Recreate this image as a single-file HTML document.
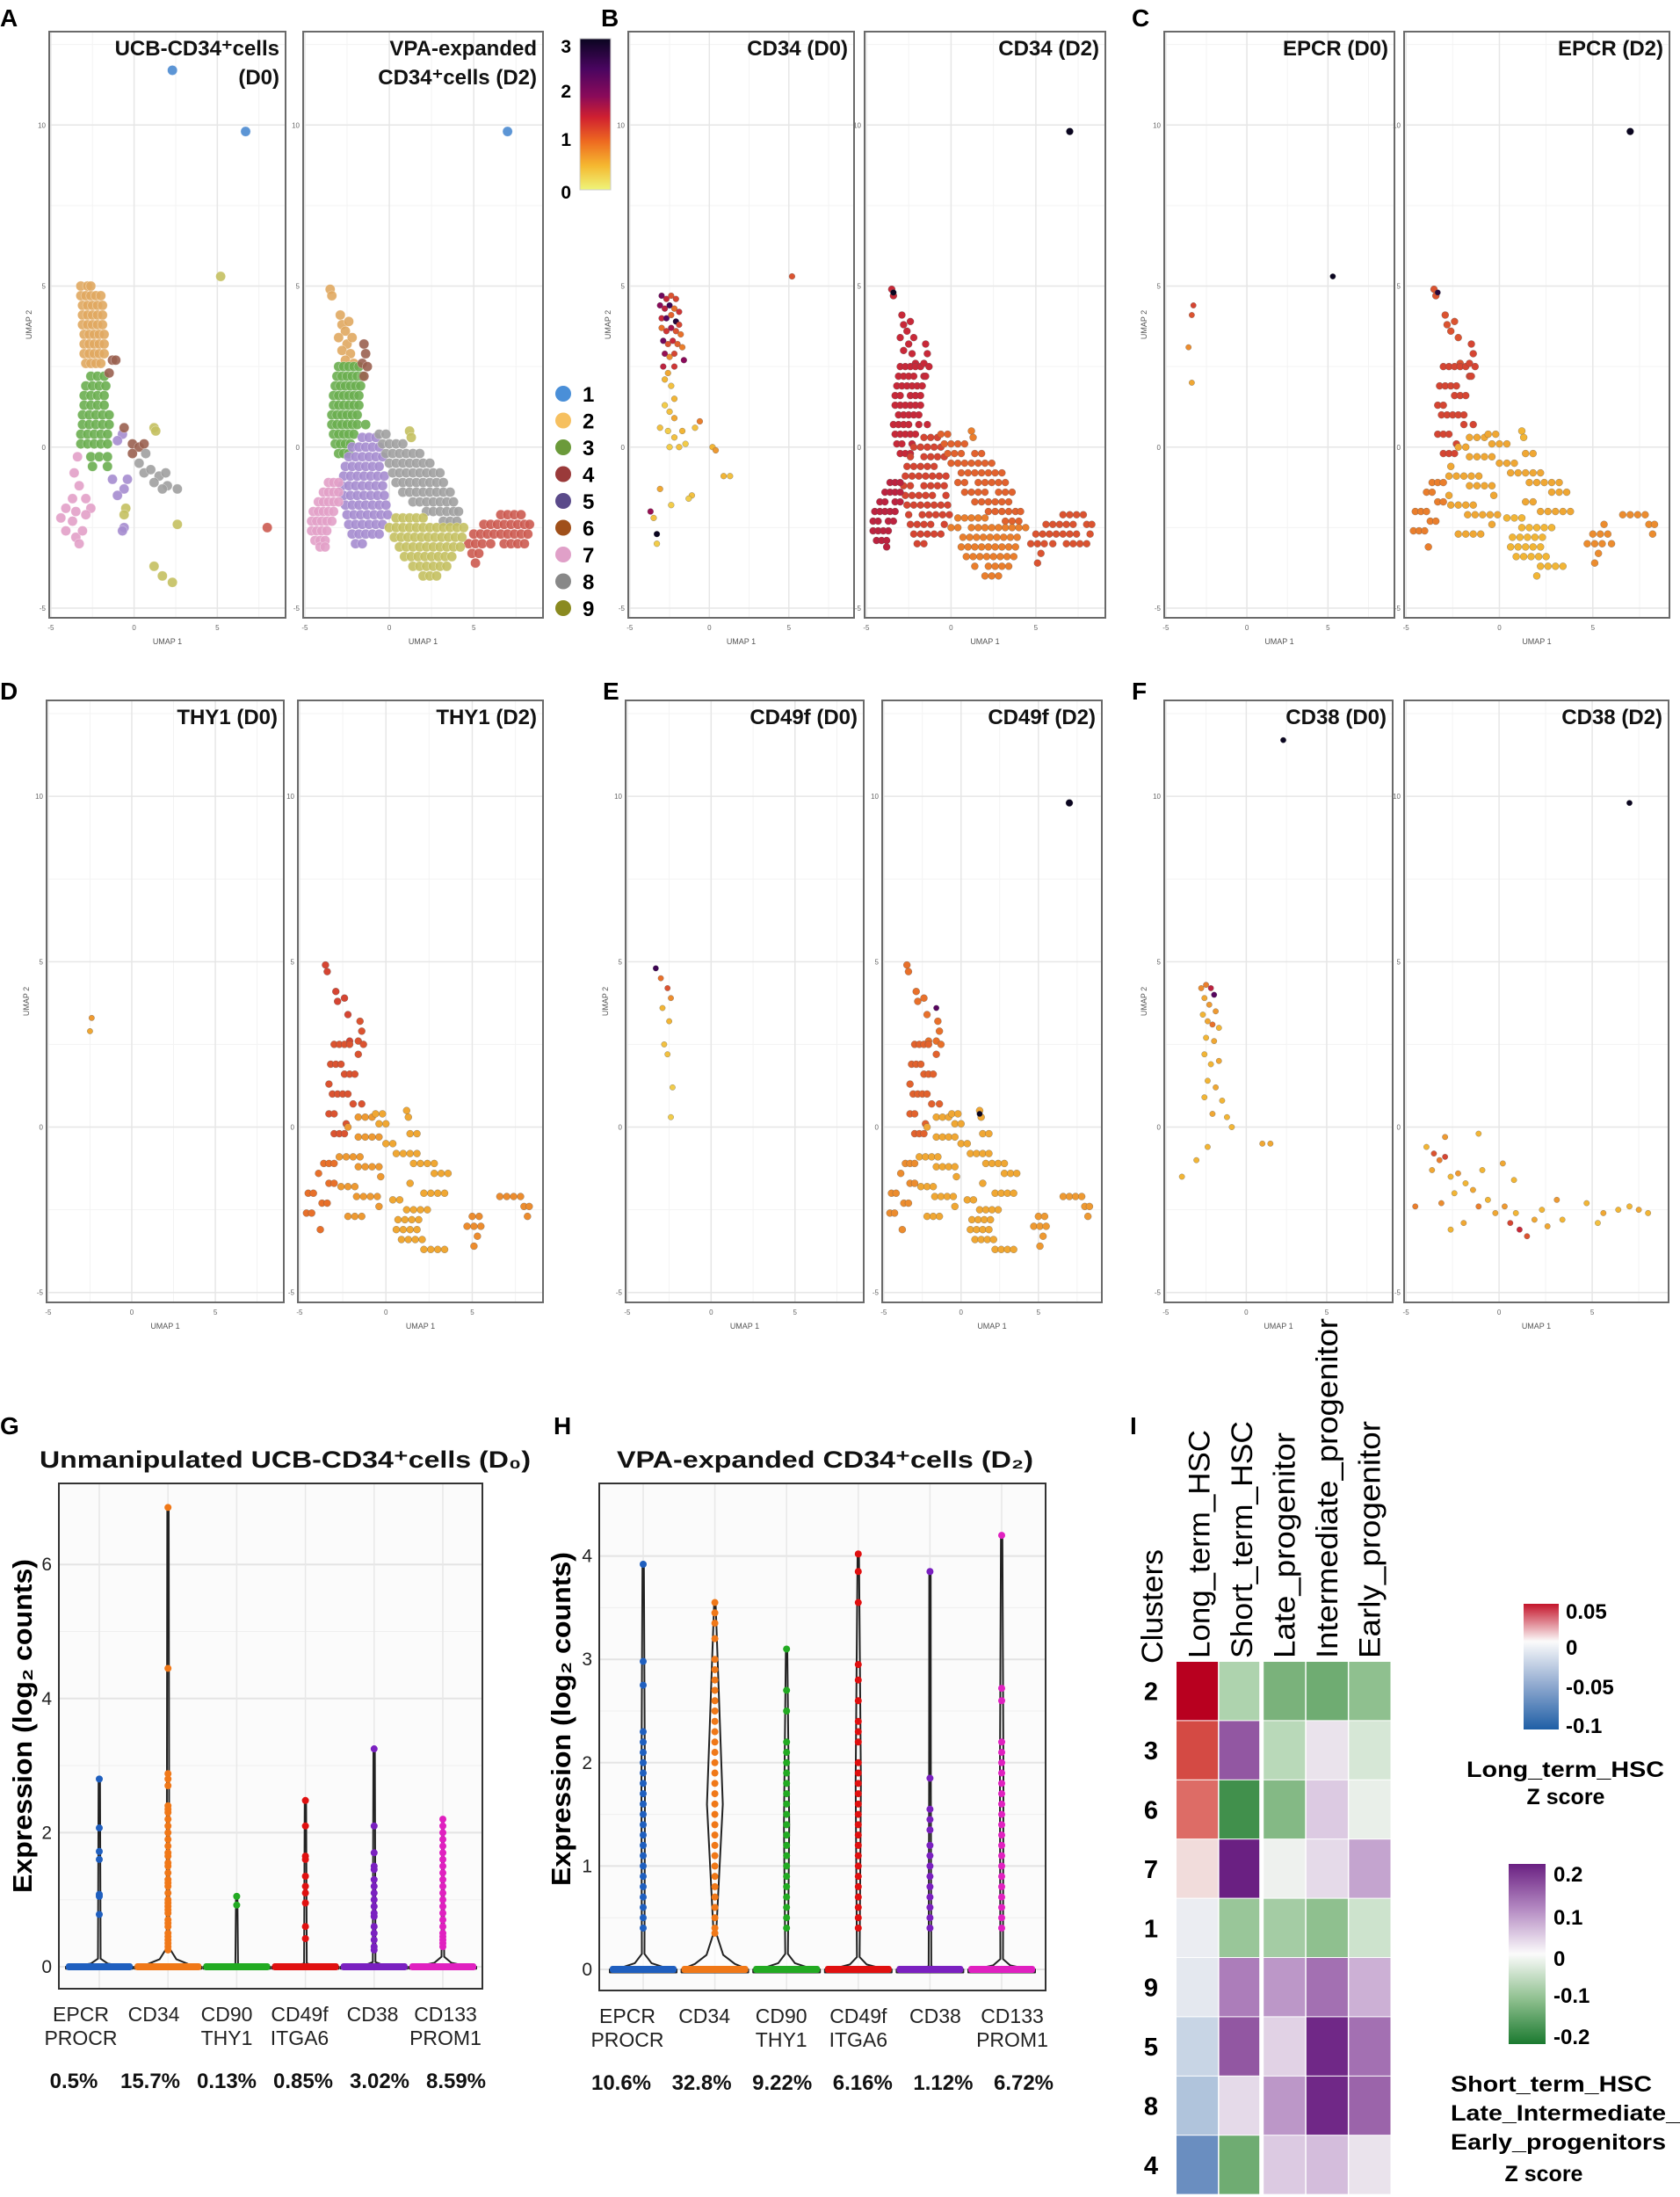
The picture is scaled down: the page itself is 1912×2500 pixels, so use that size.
<!DOCTYPE html>
<html><head><meta charset="utf-8">
<style>
body{margin:0;background:#fff}
svg{display:block;font-family:"Liberation Sans",Arial,sans-serif}
</style></head>
<body>
<svg id="fig" width="1912" height="2500" viewBox="0 0 1912 2500">
<defs>
<linearGradient id="cbar" x1="0" y1="0" x2="0" y2="1">
<stop offset="0" stop-color="#0a0520"/><stop offset="0.2" stop-color="#4a0560"/><stop offset="0.38" stop-color="#8a0a5a"/><stop offset="0.52" stop-color="#d02030"/><stop offset="0.68" stop-color="#ee6a20"/><stop offset="0.84" stop-color="#f5b830"/><stop offset="1" stop-color="#eef57a"/>
</linearGradient>
<linearGradient id="lg1" x1="0" y1="0" x2="0" y2="1">
<stop offset="0" stop-color="#c4142a"/><stop offset="0.3" stop-color="#fbfbfb"/><stop offset="0.65" stop-color="#8fa9cf"/><stop offset="1" stop-color="#1f5fa6"/>
</linearGradient>
<linearGradient id="lg2" x1="0" y1="0" x2="0" y2="1">
<stop offset="0" stop-color="#6a2082"/><stop offset="0.25" stop-color="#b48ac2"/><stop offset="0.5" stop-color="#fbfbfb"/><stop offset="0.75" stop-color="#8fc08f"/><stop offset="1" stop-color="#1b7a30"/>
</linearGradient>
</defs>
</svg>
<script>
// ---------------- DATA ----------------
const d0Clusters = [
 "2.3,11.7 6.7,9.8",
 "5.0:-3.2,-2.8,-2.6|4.7:-3.2,-2.9,-2.6,-2.3,-2|4.4:-3.1,-2.8,-2.5,-2.2,-1.9|4.1:-3.1,-2.8,-2.5,-2.2,-1.9|3.8:-3.1,-2.8,-2.5,-2.2,-1.9|3.5:-3,-2.7,-2.4,-2.1,-1.8|3.2:-3,-2.7,-2.4,-2.1,-1.8|2.9:-3,-2.7,-2.4,-2.1,-1.8|2.6:-2.9,-2.6,-2.3,-2",
 "2.2:-2.6,-2.2,-1.8|1.9:-2.9,-2.5,-2.1,-1.7|1.6:-3,-2.6,-2.2,-1.8|1.3:-3,-2.6,-2.2,-1.8|1.0:-3.1,-2.7,-2.3,-1.9,-1.5|0.7:-3.1,-2.7,-2.3,-1.9,-1.5|0.4:-3.2,-2.8,-2.4,-2,-1.6|0.1:-3.2,-2.8,-2.4,-2,-1.6|-0.3:-2.6,-2.1,-1.6|-0.6:-2.5,-1.6",
 "8,-2.5",
 "-0.6,-1.3 -1,-1.5 -0.4,-1 -0.6,-2.5 -0.7,-2.6 -1.3,-1 -0.7,0.4 -1,0.2",
 "-1.3,2.7 -1.5,2.3 -1.1,2.7 -0.6,0.6 -0.1,0.1 0.3,0 0.6,0.1 -0.1,-0.2",
 "-3.4,-0.3 -3.6,-0.8 -3.3,-1.2 -3.7,-1.6 -2.9,-1.6 -4.1,-1.9 -3.5,-2 -2.6,-1.9 -4.4,-2.2 -3.7,-2.3 -2.9,-2.1 -3.5,-2.8 -4.1,-2.6 -3.3,-3 -3.1,-2.6",
 "0.3,-0.5 0.6,-0.8 1,-0.7 1.5,-0.9 1.9,-0.8 1.2,-1.1 2,-1.2 2.6,-1.3 1.7,-1.3 0.7,-0.2",
 "5.2,5.3 1.2,0.6 1.3,0.5 -0.5,-1.9 -0.6,-2.1 2.6,-2.4 1.2,-3.7 1.7,-4 2.3,-4.2"
];
const d2Clusters = [
 "7,9.8",
 "-3.5,4.9 -3.4,4.7 -2.9,4.1 -2.8,3.8 -2.6,3.6 -3,3.4 -2.5,3.2 -2.8,3 -2.3,2.9 -2.6,2.7 -2.2,3.4 -2.4,3.9 -2.1,2.6",
 "2.5:-3,-2.7,-2.4,-2.1,-1.8|2.2:-3.1,-2.8,-2.5,-2.2,-1.9,-1.6|1.9:-3.2,-2.9,-2.6,-2.3,-2,-1.7|1.6:-3.3,-3,-2.7,-2.4,-2.1,-1.8|1.3:-3.3,-3,-2.7,-2.4,-2.1,-1.8|1.0:-3.4,-3.1,-2.8,-2.5,-2.2,-1.9|0.7:-3.4,-3.1,-2.8,-2.5,-2.2,-1.9,-1.4|0.4:-3.3,-3,-2.7,-2.4,-2.1|0.1:-3.2,-2.9,-2.6,-2.3|-0.2:-3,-2.7,-2.4",
 "-2.1:6.6,7,7.4,7.8|-2.4:5.6,6,6.4,6.8,7.2,7.6,8,8.3|-2.7:5,5.4,5.8,6.2,6.6,7,7.4,7.8,8.2|-3.0:4.7,5.1,5.5,6,6.8,7.2,7.6,8|-3.3:4.9,5.3|-3.6:5.1",
 "0.3:-1.6,-1.2,-0.8|0:-2.2,-1.8,-1.4,-1,-0.6|-0.3:-2.4,-2,-1.6,-1.2,-0.8,-0.4|-0.6:-2.6,-2.2,-1.8,-1.4,-1,-0.6|-0.9:-2.7,-2.3,-1.9,-1.5,-1.1,-0.7,-0.3|-1.2:-2.8,-2.4,-2,-1.6,-1.2,-0.8,-0.4|-1.5:-2.7,-2.3,-1.9,-1.5,-1.1,-0.7,-0.3|-1.8:-2.6,-2.2,-1.8,-1.4,-1,-0.6,-0.2|-2.1:-2.5,-2.1,-1.7,-1.3,-0.9,-0.5,-0.1|-2.4:-2.4,-2,-1.6,-1.2,-0.8,-0.4|-2.7:-2.2,-1.8,-1.4,-1,-0.6|-3.0:-2,-1.6",
 "-1.5,3.2 -1.4,2.9 -1.6,2.6 -1.3,2.5 -1.5,2.2",
 "-1.1:-3.6,-3.3,-3|-1.4:-3.9,-3.6,-3.3,-3|-1.7:-4.2,-3.9,-3.6,-3.3,-3.0|-2.0:-4.5,-4.2,-3.9,-3.6,-3.3|-2.3:-4.6,-4.3,-4,-3.7,-3.4|-2.6:-4.6,-4.3,-4,-3.7|-2.9:-4.4,-4.1,-3.8|-3.1:-4.1,-3.8",
 "0.4:-0.6,-0.2|0.1:-0.4,0,0.4,0.8|-0.2:-0.2,0.2,0.6,1,1.4,1.8|-0.5:0,0.4,0.8,1.2,1.6,2,2.4|-0.8:0.2,0.6,1,1.4,1.8,2.2,2.6,3|-1.1:0.4,0.8,1.2,1.6,2,2.4,2.8,3.2|-1.4:0.8,1.2,1.6,2,2.4,2.8,3.2,3.6|-1.7:1.4,1.8,2.2,2.6,3,3.4,3.8|-2.0:2.2,2.6,3,3.4,3.8,4.1|-2.3:3.2,3.6,4",
 "1.2,0.5 1.3,0.3|-2.2:0.4,0.8,1.2,1.6,2|-2.5:0,0.4,0.8,1.2,1.6,2,2.4,2.8,3.2,3.6,4,4.4|-2.8:0.3,0.7,1.1,1.5,1.9,2.3,2.7,3.1,3.5,3.9,4.3|-3.1:0.6,1,1.4,1.8,2.2,2.6,3,3.4,3.8,4.2|-3.4:0.9,1.3,1.7,2.1,2.5,2.9,3.3,3.7|-3.7:1.4,1.8,2.2,2.6,3,3.4|-4.0:2,2.4,2.8"
];
const clusterLabels = ["1","2","3","4","5","6","7","8","9"];
const cd34D0 = "-3,4.7,2.2 -2.7,4.6,1.5 -2.4,4.7,1.2 -2.1,4.6,1.3 -3.1,4.4,2 -2.8,4.3,1.6 -2.5,4.4,2.6 -2.2,4.3,1 -1.9,4.2,1.4 -3,4,1.5 -2.7,4,2.4 -2.4,4.1,1.1 -2.1,3.9,2.8 -1.9,3.8,1.3 -3,3.7,1 -2.7,3.6,1.4 -2.4,3.7,1.8 -2.1,3.6,1.2 -1.8,3.5,1 -2.9,3.3,2.2 -2.6,3.2,1.2 -2.3,3.3,1.5 -2,3.2,1.1 -1.7,3.1,0.9 -2.8,2.9,1.9 -2.5,2.8,0.8 -2.2,2.9,1.3 -1.6,2.7,2 -2.9,2.5,1.6 -2.6,2.3,0.6 -2.2,2.5,1.4 -2.8,2.1,0.5 -2.4,1.9,0.4 -2.2,1.5,0.5 -2.8,1.3,0.3 -2.5,1.1,0.4 -2.2,0.9,0.6 -3.1,0.6,0.4 -2.6,0.5,0.3 -2.2,0.3,0.4 -1.7,0.5,0.5 -2.5,0,0.3 -1.9,0,0.4 -1.5,0.1,0.3 -0.6,0.8,0.9 -0.9,0.6,0.4 0.2,0,0.5 0.4,-0.1,0.7 0.9,-0.9,0.5 1.3,-0.9,0.4 -3.1,-1.3,0.6 -2.4,-1.8,0.3 -1.1,-1.5,0.4 -1.3,-1.6,0.3 -3.7,-2,1.9 -3.5,-2.2,0.4 -3.3,-2.7,3 -3.3,-3,0.3 5.2,5.3,1.2";
const epcrD0 = "-3.3,4.4,1.3 -3.4,4.1,1.2 -3.6,3.1,0.8 -3.4,2.0,0.6 5.3,5.3,3";
const thy1D0 = "-2.4,3.3,0.7 -2.5,2.9,0.6";
const cd49fD0 = "-3.3,4.8,2.6 -3,4.5,1 -2.6,4.2,1.2 -2.4,3.9,0.8 -2.9,3.6,0.5 -2.5,3.2,0.5 -2.8,2.5,0.4 -2.6,2.2,0.4 -2.3,1.2,0.3 -2.4,0.3,0.3";
const cd38D0 = "2.3,11.7,3 -2.8,4.2,0.8 -2.5,4.3,0.9 -2.2,4.2,1.6 -2.0,4.0,2.4 -2.6,3.9,0.6 -2.3,3.7,0.7 -1.9,3.5,0.7 -2.7,3.4,0.5 -2.4,3.2,0.6 -2.1,3.1,1.0 -1.7,3.0,0.5 -2.5,2.7,0.5 -2.0,2.6,0.6 -2.6,2.2,0.5 -2.2,1.9,0.5 -1.7,2.0,0.6 -2.4,1.4,0.5 -1.9,1.2,0.6 -2.6,0.9,0.5 -1.5,0.8,0.5 -2.1,0.4,0.6 -1.2,0.3,0.5 -0.9,0,0.5 -2.4,-0.6,0.5 1.0,-0.5,0.6 1.5,-0.5,0.6 -4.0,-1.5,0.5 -3.1,-1.0,0.5";
const cd38D2 = "-3.9,-0.6,0.5 -3.5,-0.8,1.2 -3.2,-1.0,0.9 -2.9,-0.9,1.3 -3.6,-1.3,0.6 -2.6,-1.5,0.5 -2.2,-1.4,0.7 -1.8,-1.7,0.5 -1.4,-1.9,0.6 -2.4,-2.0,0.5 -4.5,-2.4,0.9 -3.1,-2.3,0.8 -1.1,-2.4,0.9 -0.6,-2.2,0.5 -0.2,-2.6,0.6 0.3,-2.4,0.7 0.6,-2.9,1.3 1.1,-3.1,1.5 1.5,-3.3,1.2 0.9,-2.6,0.5 1.9,-2.8,0.6 2.3,-2.5,0.5 2.6,-3.0,0.6 3.1,-2.2,0.7 3.4,-2.8,0.5 -0.9,-1.3,0.5 0.2,-1.1,0.6 0.8,-1.6,0.5 -1.9,-2.9,0.6 -2.6,-3.1,0.5 4.7,-2.3,0.5 5.6,-2.6,0.6 6.4,-2.5,0.5 7.0,-2.4,0.5 7.5,-2.5,0.6 8.0,-2.6,0.5 5.3,-2.9,0.4 7.0,9.8,3 -1.1,-0.2,0.5 -2.9,-0.3,0.7";
const cd34D2Mean = [3, 1.5, 1.5, 1.2, 1.3, 1.5, 1.6, 1.1, 0.9];
const cd34D2Frac = 0.9;
const cd34D2Extra = "-3.4,4.8,3";
const epcrD2Mean = [3, 1.2, 1.3, 0.8, 0.6, 1.3, 0.9, 0.6, 0.5];
const epcrD2Frac = 0.5;
const epcrD2Extra = "-3.3,4.8,2.8";
const thy1D2Mean = [0, 1.3, 1.2, 0.8, 0.7, 1.2, 1.0, 0.6, 0.6];
const thy1D2Frac = 0.4;
const cd49fD2Mean = [3, 1.0, 1.1, 0.7, 0.6, 1.0, 0.8, 0.6, 0.6];
const cd49fD2Frac = 0.35;
const cd49fD2Extra = "-1.6,3.6,2.4 1.2,0.4,3";

const vCats = ["EPCR","CD34","CD90","CD49f","CD38","CD133"];
const vCats2 = ["PROCR","","THY1","ITGA6","","PROM1"];
const gPct = ["0.5%","15.7%","0.13%","0.85%","3.02%","8.59%"];
const gMax = [2.8, 6.85, 1.05, 2.48, 3.25, 2.2];
const gNeck = [0.12, 0.28, 0.02, 0.05, 0.07, 0.15];
const gPts = [
 [2.8,2.07,1.72,1.6,1.08,1.05,0.78],
 [6.85,4.45,2.88,2.8,2.7,2.4,2.35,2.3,2.2,2.1,2.0,1.9,1.8,1.7,1.65,1.55,1.5,1.4,1.3,1.25,1.2,1.1,1.0,0.95,0.9,0.85,0.8,0.7,0.65,0.6,0.5,0.45,0.4,0.35,0.3,0.25],
 [1.05,0.92],
 [2.48,2.1,1.65,1.6,1.35,1.2,1.1,0.95,0.6,0.42],
 [3.25,2.1,1.7,1.5,1.45,1.3,1.2,1.1,1.0,0.9,0.8,0.75,0.6,0.5,0.4,0.3,0.25],
 [2.2,2.1,2.0,1.9,1.8,1.7,1.6,1.5,1.4,1.3,1.2,1.1,1.0,0.9,0.8,0.7,0.6,0.5,0.45,0.4,0.35,0.3]
];
const hPct = ["10.6%","32.8%","9.22%","6.16%","1.12%","6.72%"];
const hMax = [3.92, 3.55, 3.1, 4.02, 3.85, 4.2];
const hNeck = [0.15, 0.35, 0.15, 0.12, 0.03, 0.1];
const hBody = [2, 9, 3, 3, 1, 2];
const hPts = [
 [3.92,2.98,2.75,2.3,2.2,2.1,2.0,1.9,1.8,1.7,1.6,1.5,1.4,1.3,1.2,1.1,1.0,0.9,0.8,0.7,0.6,0.5,0.4],
 [3.55,3.45,3.35,3.2,3.0,2.9,2.8,2.7,2.6,2.5,2.4,2.3,2.2,2.1,2.0,1.9,1.8,1.7,1.6,1.5,1.4,1.3,1.2,1.1,1.0,0.9,0.8,0.7,0.6,0.5,0.4,0.35],
 [3.1,2.7,2.5,2.2,2.1,2.0,1.9,1.8,1.7,1.6,1.5,1.4,1.3,1.2,1.1,1.0,0.9,0.8,0.7,0.6,0.5,0.4],
 [4.02,3.85,3.55,2.95,2.8,2.6,2.4,2.3,2.2,2.0,1.9,1.8,1.7,1.6,1.5,1.4,1.3,1.2,1.1,1.0,0.9,0.8,0.7,0.6,0.5,0.4],
 [3.85,1.85,1.55,1.45,1.35,1.2,1.1,1.0,0.9,0.8,0.7,0.6,0.5,0.4],
 [4.2,2.72,2.6,2.2,2.1,2.0,1.9,1.8,1.7,1.6,1.5,1.4,1.3,1.2,1.1,1.0,0.9,0.8,0.7,0.6,0.5,0.4]
];
const hmRows = ["2","3","6","7","1","9","5","8","4"];
const hmCols = ["Long_term_HSC","Short_term_HSC","Late_progenitor","Intermediate_progenitor","Early_progenitor"];
const zLong = [0.06,0.03,0.025,0.005,-0.005,-0.01,-0.03,-0.045,-0.08];
const zShort = [-0.07,0.14,-0.17,0.21,-0.09,0.11,0.14,0.03,-0.13];
const zLate = [-0.12,-0.06,-0.11,-0.005,-0.08,0.09,0.04,0.09,0.05];
const zInter = [-0.13,0.02,0.05,0.03,-0.1,0.12,0.19,0.19,0.06];
const zEarly = [-0.1,-0.03,-0.01,0.08,-0.04,0.07,0.12,0.13,0.02];

// ---------------- HELPERS ----------------
const svg = document.getElementById('fig');
const NS = 'http://www.w3.org/2000/svg';
function mk(tag, a, p){const e=document.createElementNS(NS,tag);for(const k in a)e.setAttribute(k,a[k]);(p||svg).appendChild(e);return e;}
function txt(s, a, p){const e=mk('text',a,p);e.textContent=s;return e;}
function parseCells(s){
  const out=[];
  s.split('|').forEach(part=>{
    part=part.trim(); if(!part) return;
    if(part.indexOf(':')>=0){const [y,xs]=part.split(':');xs.split(',').forEach(x=>out.push([+x,+y]));}
    else part.split(/\s+/).forEach(t=>{const v=t.split(',').map(Number);out.push(v);});
  });
  return out;
}
function hex2rgb(h){return [parseInt(h.slice(1,3),16),parseInt(h.slice(3,5),16),parseInt(h.slice(5,7),16)];}
function scale(stops, v){
  if(v<=stops[0][0]) return stops[0][1];
  if(v>=stops[stops.length-1][0]) return stops[stops.length-1][1];
  for(let i=0;i<stops.length-1;i++){
    const [a,ca]=stops[i],[b,cb]=stops[i+1];
    if(v>=a&&v<=b){const t=(v-a)/(b-a);const A=hex2rgb(ca),B=hex2rgb(cb);
      return 'rgb('+A.map((c,j)=>Math.round(c+(B[j]-c)*t)).join(',')+')';}
  }
}
const exprStops = [[0,'#f3ee6a'],[0.5,'#f2b535'],[1,'#e8702a'],[1.5,'#c82838'],[2,'#8a0a5a'],[2.5,'#4a0560'],[3,'#0a0520']];
const clusterColors = ['#4a8ad0','#e0a860','#6aae50','#cc5a50','#a58ccf','#9a6050','#e2a0c8','#a0a0a0','#c4c060'];
const legendColors = ['#4a8fd8','#f6c060','#6b9a3a','#9a3a3a','#5a4a8a','#a0501a','#e0a0c8','#888888','#8a8a20'];

function umapPanel(name, x0, x1, y0, y1, titles, ylab){
  const g = mk('g',{});
  
  
  const sx = x => x0 + (x + 5.1) / 14.2 * (x1 - x0);
  const sy = y => y0 + (12.9 - y) / 18.2 * (y1 - y0);
  mk('rect',{x:x0,y:y0,width:x1-x0,height:y1-y0,fill:'#fff'},g);
  [-2.5,2.5,7.5].forEach(v=>mk('line',{x1:sx(v),x2:sx(v),y1:y0,y2:y1,stroke:'#f3f3f3','stroke-width':1},g));
  [-2.5,2.5,7.5,12.5].forEach(v=>mk('line',{x1:x0,x2:x1,y1:sy(v),y2:sy(v),stroke:'#f3f3f3','stroke-width':1},g));
  [-5,0,5].forEach(v=>{mk('line',{x1:sx(v),x2:sx(v),y1:y0,y2:y1,stroke:'#e6e6e6','stroke-width':1.5},g);
    txt(String(v),{x:sx(v),y:y1+14,'font-size':8,fill:'#666','text-anchor':'middle'},g);});
  [-5,0,5,10].forEach(v=>{mk('line',{x1:x0,x2:x1,y1:sy(v),y2:sy(v),stroke:'#e6e6e6','stroke-width':1.5},g);
    txt(String(v),{x:x0-4,y:sy(v)+3,'font-size':8,fill:'#666','text-anchor':'end'},g);});
  const xl = txt('UMAP 1',{x:(x0+x1)/2,y:y1+30,'font-size':9,fill:'#555','text-anchor':'middle'},g);
  
  
  if(ylab){
    const yl = txt('UMAP 2',{x:0,y:0,'font-size':9,fill:'#555','text-anchor':'middle',transform:`translate(${x0-20},${(y0+y1)/2}) rotate(-90)`},g);
    
    
  }
  const pts = mk('g',{},g);
  const front = mk('g',{},g);
  mk('rect',{x:x0,y:y0,width:x1-x0,height:y1-y0,fill:'none',stroke:'#6a6a6a','stroke-width':2},front);
  titles.forEach((t,i)=>{
    const tt = txt(t,{x:x1-7,y:y0+27+i*33,'font-size':24,'font-weight':'bold',fill:'#111','text-anchor':'end'},front);
    
    
  });
  return {g:pts, sx, sy};
}
function drawClusters(p, clusters){
  clusters.forEach((s,ci)=>{
    parseCells(s).forEach(c=>{
      const d = mk('circle',{cx:p.sx(c[0]),cy:p.sy(c[1]),r:5.6,fill:clusterColors[ci],stroke:'#ffffff','stroke-width':0.3,'fill-opacity':0.9},p.g);
      
      
    });
  });
}
function drawExpr(p, s, r){
  parseCells(s).forEach(c=>{
    const d = mk('circle',{cx:p.sx(c[0]),cy:p.sy(c[1]),r:r||3.2,fill:scale(exprStops,c[2]),stroke:'#555','stroke-width':0.3},p.g);
    
    
  });
}
function drawExprD2(p, means, frac){
  d2Clusters.forEach((s,ci)=>{
    if(means[ci]<=0) return;
    parseCells(s).forEach((c,i)=>{
      if((i%10) >= frac*10) return;
      const d = mk('circle',{cx:p.sx(c[0]),cy:p.sy(c[1]),r:4,fill:scale(exprStops,means[ci]),stroke:'#555','stroke-width':0.3},p.g);
      
      
    });
  });
}
function panelLetter(s,x,y){
  const t = txt(s,{x:x,y:y,'font-size':28,'font-weight':'bold',fill:'#000'});
  
  
}

const R1 = [36,703], R2 = [797,1482];
const pA1 = umapPanel('umap-clusters-d0',56,325,R1[0],R1[1],['UCB-CD34⁺cells','(D0)'],true);
drawClusters(pA1, d0Clusters);
const pA2 = umapPanel('umap-clusters-d2',345,618,R1[0],R1[1],['VPA-expanded','CD34⁺cells (D2)'],false);
drawClusters(pA2, d2Clusters);
const pB1 = umapPanel('umap-cd34-d0',715,972,R1[0],R1[1],['CD34 (D0)'],true);
drawExpr(pB1, cd34D0, 3.4);
const pB2 = umapPanel('umap-cd34-d2',984,1258,R1[0],R1[1],['CD34 (D2)'],false);
drawExprD2(pB2, cd34D2Mean, cd34D2Frac); drawExpr(pB2, cd34D2Extra, 3.4);
const pC1 = umapPanel('umap-epcr-d0',1325,1587,R1[0],R1[1],['EPCR (D0)'],true);
drawExpr(pC1, epcrD0);
const pC2 = umapPanel('umap-epcr-d2',1598,1900,R1[0],R1[1],['EPCR (D2)'],false);
drawExprD2(pC2, epcrD2Mean, epcrD2Frac); drawExpr(pC2, epcrD2Extra);

const pD1 = umapPanel('umap-thy1-d0',53,323,R2[0],R2[1],['THY1 (D0)'],true);
drawExpr(pD1, thy1D0);
const pD2 = umapPanel('umap-thy1-d2',339,618,R2[0],R2[1],['THY1 (D2)'],false);
drawExprD2(pD2, thy1D2Mean, thy1D2Frac);
const pE1 = umapPanel('umap-cd49f-d0',712,983,R2[0],R2[1],['CD49f (D0)'],true);
drawExpr(pE1, cd49fD0);
const pE2 = umapPanel('umap-cd49f-d2',1004,1254,R2[0],R2[1],['CD49f (D2)'],false);
drawExprD2(pE2, cd49fD2Mean, cd49fD2Frac); drawExpr(pE2, cd49fD2Extra);
const pF1 = umapPanel('umap-cd38-d0',1325,1585,R2[0],R2[1],['CD38 (D0)'],true);
drawExpr(pF1, cd38D0);
const pF2 = umapPanel('umap-cd38-d2',1598,1899,R2[0],R2[1],['CD38 (D2)'],false);
drawExpr(pF2, cd38D2);

panelLetter('A',0,30); panelLetter('B',684,30); panelLetter('C',1288,30);
panelLetter('D',0,796); panelLetter('E',686,796); panelLetter('F',1288,796);
panelLetter('G',0,1632); panelLetter('H',630,1632); panelLetter('I',1286,1632);

const cb = mk('rect',{x:660,y:44,width:35,height:172,fill:'url(#cbar)',stroke:'#ccc','stroke-width':1});


[['3',52],['2',103],['1',158],['0',218]].forEach(t=>{
  const e = txt(t[0],{x:650,y:t[1]+8,'font-size':21,'font-weight':'bold','text-anchor':'end'});
  
  
});
clusterLabels.forEach((l,i)=>{
  const y = 448 + i*30.5;
  const c = mk('circle',{cx:641,cy:y,r:9,fill:legendColors[i]});
  
  
  const t = txt(l,{x:663,y:y+9,'font-size':24,'font-weight':'bold'});
  
  
});

const vColors = ['#1f5fbf','#f07818','#22aa22','#e01010','#7a20c0','#e020c0'];
function violinChart(name, x0, x1, y0, y1, zeroY, perUnit, ticks, cx0, cstep, maxs, necks, bodies, ptsArr, pcts, labStart, labStep, pctStart, pctStep, title, titleX, titleLen, ylabX, ylabY){
  const g = mk('g',{});
  
  
  const sy = v => zeroY - v*perUnit;
  mk('rect',{x:x0,y:y0,width:x1-x0,height:y1-y0,fill:'#fbfbfb'},g);
  ticks.forEach((t,i)=>{
    mk('line',{x1:x0,x2:x1,y1:sy(t),y2:sy(t),stroke:'#e4e4e4','stroke-width':2},g);
    if(i<ticks.length-1) mk('line',{x1:x0,x2:x1,y1:sy((t+ticks[i+1])/2),y2:sy((t+ticks[i+1])/2),stroke:'#efefef','stroke-width':1},g);
    const tl = txt(String(t),{x:x0-8,y:sy(t)+7,'font-size':21,fill:'#222','text-anchor':'end'},g);
    
    
  });
  vCats.forEach((c,i)=>{
    const cx = cx0 + i*cstep;
    mk('line',{x1:cx,x2:cx,y1:y0,y2:y1,stroke:'#e8e8e8','stroke-width':1.5},g);
  });
  vCats.forEach((c,i)=>{
    const cx = cx0 + i*cstep, hw = 38, n = necks[i], mx = maxs[i], bw = bodies ? bodies[i] : 1.2;
    const prof = [[mx,0.8],[mx*0.45,bw],[n,1.5],[n*0.4,hw*0.25],[n*0.15,hw*0.6],[0,hw],[-0.03,hw]];
    let d = 'M'+prof.map(p=>(cx+p[1])+','+sy(p[0])).join(' L');
    d += ' L'+prof.slice().reverse().map(p=>(cx-p[1])+','+sy(p[0])).join(' L')+' Z';
    const v = mk('path',{d:d,fill:'#ffffff','fill-opacity':0.6,stroke:'#222','stroke-width':2,'stroke-linejoin':'round'},g);
    
    
    const band = mk('rect',{x:cx-hw,y:sy(0)-4,width:hw*2,height:8,fill:vColors[i],rx:3},g);
    
    
    ptsArr[i].forEach(pv=>{
      const p = mk('circle',{cx:cx,cy:sy(pv),r:4,fill:vColors[i]},g);
      
      
    });
    const l1 = txt(c,{x:labStart+i*labStep,y:y1+37,'font-size':23,fill:'#222','text-anchor':'middle'},g);
    
    
    if(vCats2[i]){
      const l2 = txt(vCats2[i],{x:labStart+i*labStep,y:y1+64,'font-size':23,fill:'#222','text-anchor':'middle'},g);
      
      
    }
    const pc = txt(pcts[i],{x:pctStart+i*pctStep,y:y1+113,'font-size':24,'font-weight':'bold',fill:'#111','text-anchor':'middle'},g);
    
    
  });
  mk('rect',{x:x0,y:y0,width:x1-x0,height:y1-y0,fill:'none',stroke:'#333','stroke-width':2},g);
  const tt = txt(title,{x:titleX,y:y0-18,'font-size':27,'font-weight':'bold',fill:'#111',textLength:titleLen,lengthAdjust:'spacingAndGlyphs'},g);
  
  
  const yl = txt('Expression (log₂ counts)',{x:0,y:0,'font-size':31,'font-weight':'bold','text-anchor':'middle',textLength:380,lengthAdjust:'spacingAndGlyphs',transform:`translate(${ylabX},${ylabY}) rotate(-90)`},g);
  
  
}
violinChart('violin-chart-d0',67,549,1688,2263,2238,76.3,[0,2,4,6],113,78.2,gMax,gNeck,null,gPts,gPct,92,83,84,87,'Unmanipulated UCB-CD34⁺cells (D₀)',45,559,36,1964);
violinChart('violin-chart-d2',682,1190,1688,2265,2241,117.6,[0,1,2,3,4],732,81.6,hMax,hNeck,hBody,hPts,hPct,714,87.6,707,91.6,'VPA-expanded CD34⁺cells (D₂)',702,474,649,1956);

const longStops = [[-0.1,'#2060a8'],[-0.08,'#6a8ec0'],[-0.045,'#b0c4dc'],[-0.03,'#c8d5e5'],[0,'#f2f2f4'],[0.015,'#eeb0aa'],[0.03,'#d44a44'],[0.05,'#b8001f']];
const pgStops = [[-0.2,'#1b7a30'],[-0.15,'#5a9e5e'],[-0.1,'#8fc08f'],[-0.05,'#c3dfc3'],[0,'#f3f3f3'],[0.05,'#dccae2'],[0.1,'#b48ac2'],[0.15,'#8a4a9a'],[0.2,'#6a2082']];
const hm = mk('g',{});


const hmX0 = 1339, hmColW = 48.6, hmY0 = 1891, hmRowH = 67.4;
const zCols = [zLong, zShort, zLate, zInter, zEarly];
const colTextLen = [260,270,257,387,270];
zCols.forEach((col,ci)=>{
  col.forEach((z,ri)=>{
    const c = mk('rect',{x:hmX0+ci*hmColW+(ci>1?2:0),y:hmY0+ri*hmRowH,width:hmColW-(ci==1?3:1.5),height:hmRowH-1,fill:scale(ci==0?longStops:pgStops,z)},hm);
    
    
  });
  const t = txt(hmCols[ci],{x:0,y:0,'font-size':34,fill:'#000',textLength:colTextLen[ci],lengthAdjust:'spacingAndGlyphs',transform:`translate(${hmX0+ci*hmColW+hmColW/2+13},1887) rotate(-90)`},hm);
  
  
});
hmRows.forEach((r,ri)=>{
  const t = txt(r,{x:1310,y:hmY0+ri*hmRowH+hmRowH/2+10,'font-size':29,'font-weight':'bold','text-anchor':'middle'},hm);
  
  
});
const clt = txt('Clusters',{x:0,y:0,'font-size':34,fill:'#000',textLength:130,lengthAdjust:'spacingAndGlyphs',transform:'translate(1323,1893) rotate(-90)'},hm);



const lg1 = mk('rect',{x:1734,y:1825,width:40,height:143,fill:'url(#lg1)'});


[['0.05',1833],['0',1874],['-0.05',1919],['-0.1',1963]].forEach(t=>{
  const e = txt(t[0],{x:1782,y:t[1]+9,'font-size':24,'font-weight':'bold'});
  
  
});
const lt1 = txt('Long_term_HSC',{x:1669,y:2022,'font-size':25,'font-weight':'bold',textLength:225,lengthAdjust:'spacingAndGlyphs'});


const lt1b = txt('Z score',{x:1782,y:2053,'font-size':25,'font-weight':'bold','text-anchor':'middle'});


const lg2 = mk('rect',{x:1717,y:2121,width:42,height:205,fill:'url(#lg2)'});


[['0.2',2132],['0.1',2181],['0',2228],['-0.1',2270],['-0.2',2317]].forEach(t=>{
  const e = txt(t[0],{x:1768,y:t[1]+9,'font-size':24,'font-weight':'bold'});
  
  
});
[['Short_term_HSC',2380,229],['Late_Intermediate_',2413,261],['Early_progenitors',2446,245]].forEach(t=>{
  const e = txt(t[0],{x:1651,y:t[1],'font-size':25,'font-weight':'bold',textLength:t[2],lengthAdjust:'spacingAndGlyphs'});
  
  
});
const lt2b = txt('Z score',{x:1757,y:2482,'font-size':25,'font-weight':'bold','text-anchor':'middle'});


</script>
</body></html>
